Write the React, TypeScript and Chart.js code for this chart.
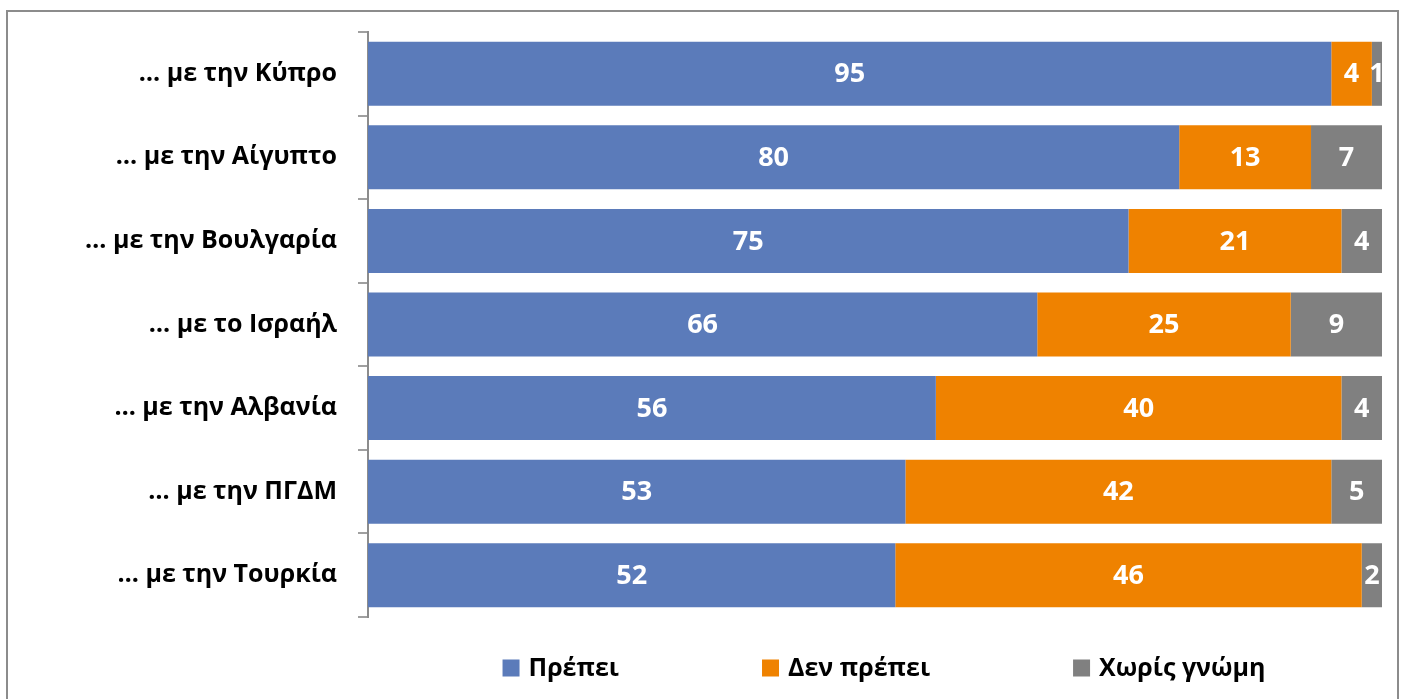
import React, { useEffect, useRef } from "react";
import { Chart, registerables } from "chart.js";

Chart.register(...registerables);

const categories = [
  "… με την Κύπρο",
  "… με την Αίγυπτο",
  "… με την Βουλγαρία",
  "… με το Ισραήλ",
  "… με την Αλβανία",
  "… με την ΠΓΔΜ",
  "… με την Τουρκία",
];
const seriesNames = ["Πρέπει", "Δεν πρέπει", "Χωρίς γνώμη"];
const prepei = [95, 80, 75, 66, 56, 53, 52];
const denPrepei = [4, 13, 21, 25, 40, 42, 46];
const xorisGnomi = [1, 7, 4, 9, 4, 5, 2];
const colors = ["#5B7BBA", "#EF8200", "#808080"];

const FONT = '"Open Sans", "Noto Sans", sans-serif';

const valueLabels = {
  id: "valueLabels",
  afterDatasetsDraw(chart: any) {
    const ctx = chart.ctx;
    ctx.save();
    ctx.font = `bold 27px ${FONT}`;
    ctx.fillStyle = "#ffffff";
    ctx.textAlign = "center";
    ctx.textBaseline = "middle";
    chart.data.datasets.forEach((ds: any, i: number) => {
      const meta = chart.getDatasetMeta(i);
      meta.data.forEach((el: any, j: number) => {
        const p = el.getProps(["x", "base", "y"], true);
        ctx.fillText(String(ds.data[j]), (p.x + p.base) / 2, p.y + 1);
      });
    });
    ctx.restore();
  },
};

const bottomLegend = {
  id: "bottomLegend",
  afterDraw(chart: any) {
    const ctx = chart.ctx;
    ctx.save();
    ctx.font = `bold 25px ${FONT}`;
    ctx.textBaseline = "middle";
    ctx.textAlign = "left";
    const box = 17;
    const boxGap = 9;
    const itemGap = 143;
    const items = chart.data.datasets.map((ds: any) => ({
      label: ds.label,
      color: ds.backgroundColor,
      w: box + boxGap + ctx.measureText(ds.label).width,
    }));
    const total =
      items.reduce((s: number, it: any) => s + it.w, 0) + itemGap * (items.length - 1);
    let x = 884 - total / 2;
    const y = 668;
    items.forEach((it: any) => {
      ctx.fillStyle = it.color;
      ctx.fillRect(x, y - box / 2, box, box);
      ctx.fillStyle = "#000000";
      ctx.fillText(it.label, x + box + boxGap, y + 1);
      x += it.w + itemGap;
    });
    ctx.restore();
  },
};

export default function App() {
  const ref = useRef<HTMLCanvasElement | null>(null);

  useEffect(() => {
    if (!ref.current) return;
    const chart = new Chart(ref.current, {
      type: "bar",
      data: {
        labels: categories,
        datasets: [prepei, denPrepei, xorisGnomi].map((d, i) => ({
          label: seriesNames[i],
          data: d,
          backgroundColor: colors[i],
          borderWidth: 0,
          categoryPercentage: 1,
          barPercentage: 0.766,
        })),
      },
      options: {
        indexAxis: "y",
        animation: false,
        responsive: true,
        maintainAspectRatio: false,
        layout: { padding: { left: 0, top: 32, right: 21, bottom: 82 } },
        plugins: {
          legend: { display: false },
          tooltip: { enabled: false },
        },
        scales: {
          x: { stacked: true, min: 0, max: 100, display: false },
          y: {
            stacked: true,
            afterFit: (s: any) => {
              s.width = 368;
              s.paddingTop = 0;
              s.paddingBottom = 0;
            },
            border: { display: true, color: "#8C8C8C", width: 2 },
            grid: {
              drawOnChartArea: false,
              drawTicks: true,
              tickLength: 10,
              color: "#A0A0A0",
              lineWidth: 2,
            },
            ticks: {
              color: "#000000",
              padding: 21,
              font: { family: FONT, size: 25, weight: "bold" },
            },
          },
        },
      },
      plugins: [valueLabels, bottomLegend],
    });
    return () => chart.destroy();
  }, []);

  return (
    <div
      style={{
        position: "fixed",
        left: 0,
        top: 0,
        width: 1403,
        height: 699,
        background: "#ffffff",
        overflow: "hidden",
      }}
    >
      <div
        style={{
          position: "absolute",
          left: 6,
          top: 10,
          width: 1389,
          height: 720,
          border: "2px solid #8C8C8C",
        }}
      />
      <div style={{ position: "absolute", left: 0, top: 0, width: 1403, height: 699 }}>
        <canvas ref={ref} />
      </div>
    </div>
  );
}
